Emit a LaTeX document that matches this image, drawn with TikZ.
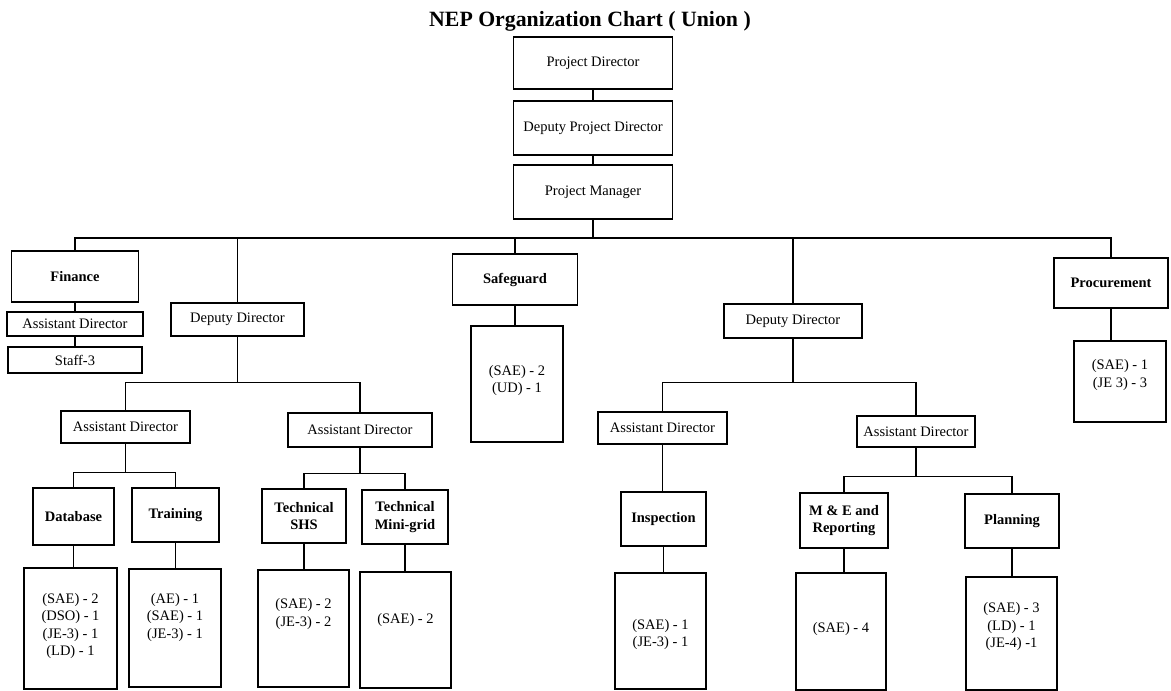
\documentclass[tikz,border=0pt]{standalone}
\usepackage{fontspec}
\setmainfont{Liberation Serif}
% staff lines inside a box, raised by #1 from the box centre
\newcommand\stafflist[2]{\raisebox{#1}[0pt][0pt]{\begin{tabular}{@{}c@{}}#2\end{tabular}}}

\begin{document}
\begin{tikzpicture}[x=1pt,y=-1pt,line width=1.2pt,
    every node/.style={font=\fontsize{14.5}{17.5}\selectfont},
    box/.style={draw,rectangle,inner sep=0pt,align=center},
    head/.style={box,font=\bfseries\fontsize{14.5}{17.5}\selectfont}]
\useasboundingbox (0,0) rectangle (1171,691);

\node[font=\bfseries\fontsize{21.8}{24}\selectfont,anchor=base] (title) at (590,26) {NEP Organization Chart ( Union )};

% top of the chart
\node[box,minimum width=159pt,minimum height=52pt] (pd) at (593,63) {Project Director};
\node[box,minimum width=159pt,minimum height=54pt] (dpd) at (593,128) {Deputy Project Director};
\node[box,minimum width=159pt,minimum height=54pt] (pm) at (593,192) {Project Manager};

% finance
\node[head,minimum width=127pt,minimum height=51pt] (fin) at (75,276.5) {Finance};
\node[box,minimum width=136pt,minimum height=24pt] (fin_ad) at (75,324) {Assistant Director};
\node[box,minimum width=134pt,minimum height=26pt] (fin_staff) at (75,360) {Staff-3};

% left deputy director
\node[box,minimum width=133pt,minimum height=33pt] (dd1) at (237.5,319.5) {Deputy Director};
\node[box,minimum width=129pt,minimum height=32pt] (ad1) at (125.5,427) {Assistant Director};
\node[box,minimum width=144pt,minimum height=34pt] (ad2) at (360,430) {Assistant Director};
\node[head,minimum width=81pt,minimum height=57pt] (db) at (73.5,516.5) {Database};
\node[head,minimum width=87pt,minimum height=54pt] (tr) at (175.5,515) {Training};
\node[head,minimum width=84pt,minimum height=54pt] (shs) at (304,516) {Technical\\SHS};
\node[head,minimum width=86pt,minimum height=54pt] (mini) at (405,517) {Technical\\Mini-grid};
\node[box,minimum width=93pt,minimum height=121pt] (db_staff) at (70.5,628.5)
    {\stafflist{-1pt}{(SAE) - 2\\(DSO) - 1\\(JE-3) - 1\\(LD) - 1}};
\node[box,minimum width=92pt,minimum height=118pt] (tr_staff) at (175,628)
    {\stafflist{7pt}{(AE) - 1\\(SAE) - 1\\(JE-3) - 1}};
\node[box,minimum width=91pt,minimum height=117pt] (shs_staff) at (303.5,628.5)
    {\stafflist{11pt}{(SAE) - 2\\(JE-3) - 2}};
\node[box,minimum width=91pt,minimum height=116pt] (mini_staff) at (405.5,630)
    {\stafflist{6pt}{(SAE) - 2}};

% safeguard
\node[head,minimum width=125pt,minimum height=51pt] (sg) at (515,279.5) {Safeguard};
\node[box,minimum width=92pt,minimum height=116pt] (sg_staff) at (517,384)
    {\stafflist{0pt}{(SAE) - 2\\(UD) - 1}};

% right deputy director
\node[box,minimum width=138pt,minimum height=34pt] (dd2) at (793,321) {Deputy Director};
\node[box,minimum width=129pt,minimum height=32pt] (ad3) at (662.5,428) {Assistant Director};
\node[box,minimum width=118pt,minimum height=31pt] (ad4) at (916,431.5) {Assistant Director};
\node[head,minimum width=85pt,minimum height=54pt] (insp) at (663.5,519) {Inspection};
\node[head,minimum width=88pt,minimum height=55pt] (me) at (844,520.5) {M \& E and\\Reporting};
\node[head,minimum width=94pt,minimum height=54pt] (plan) at (1012,521) {Planning};
\node[box,minimum width=91pt,minimum height=116pt] (insp_staff) at (660.5,631)
    {\stafflist{-7pt}{(SAE) - 1\\(JE-3) - 1}};
\node[box,minimum width=90pt,minimum height=117pt] (me_staff) at (841,631.5)
    {\stafflist{-1pt}{(SAE) - 4}};
\node[box,minimum width=91pt,minimum height=113pt] (plan_staff) at (1011.5,633.5)
    {\stafflist{3pt}{(SAE) - 3\\(LD) - 1\\(JE-4) -1}};

% procurement
\node[head,minimum width=114pt,minimum height=50pt] (proc) at (1111,283) {Procurement};
\node[box,minimum width=92pt,minimum height=81pt] (proc_staff) at (1120,381.5)
    {\stafflist{3pt}{(SAE) - 1\\(JE 3) - 3}};

% connectors
\draw (pd) -- (dpd);
\draw (dpd) -- (pm);
\coordinate (bus) at (593,238);
\draw (pm) -- (bus);
\foreach \n in {fin,dd1,sg,dd2,proc}
    \draw (\n) |- (bus);

\path (dd1.south) ++(0,46) coordinate (dd1_fork);
\path (dd2.south) ++(0,44) coordinate (dd2_fork);
\path (ad1.south) ++(0,29) coordinate (ad1_fork);
\path (ad2.south) ++(0,26) coordinate (ad2_fork);
\path (ad4.south) ++(0,29) coordinate (ad4_fork);
\foreach \p/\a/\b in {dd1/ad1/ad2,dd2/ad3/ad4,ad1/db/tr,ad2/shs/mini,ad4/me/plan}{
    \draw (\p) -- (\p_fork);
    \draw (\a) |- (\p_fork);
    \draw (\b) |- (\p_fork);
}

\foreach \a/\b in {fin/fin_ad,fin_ad/fin_staff,sg/sg_staff,proc/proc_staff,
    ad3/insp,db/db_staff,tr/tr_staff,shs/shs_staff,mini/mini_staff,
    insp/insp_staff,me/me_staff,plan/plan_staff}
    \draw (\a.south) -- (\a.south |- \b.north);
\end{tikzpicture}
\end{document}
